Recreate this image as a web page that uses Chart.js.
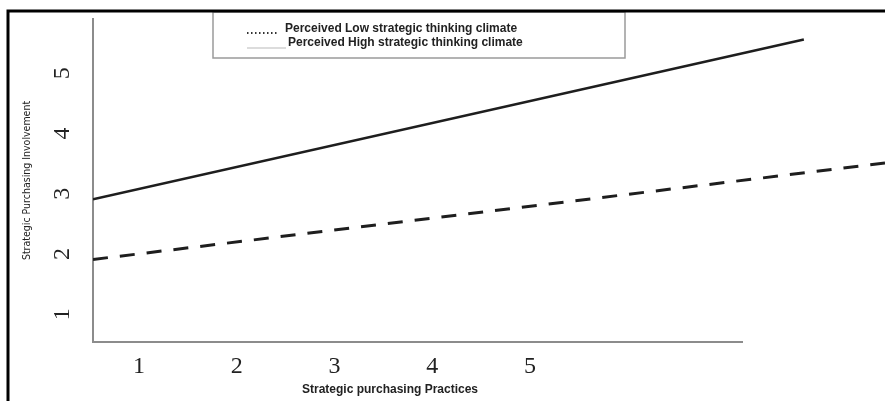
<!DOCTYPE html>
<html>
<head>
<meta charset="utf-8">
<script src="https://cdn.jsdelivr.net/npm/chart.js@4.4.1/dist/chart.umd.min.js"></script>
<style>
  html, body { margin: 0; padding: 0; background: #fff; }
  #wrap { width: 885px; height: 401px; }
</style>
</head>
<body>
<div id="wrap"><canvas id="chart" width="885" height="401"></canvas></div>
<script>
// ================= DATA =================
const seriesLabels = ["Perceived Low strategic thinking climate", "Perceived High strategic thinking climate"];
const lowX = [0.53, 8.63];
const lowY = [1.91, 3.51];
const highX = [0.53, 7.8];
const highY = [2.91, 5.56];
const xTicks = [1, 2, 3, 4, 5];
const yTicks = [1, 2, 3, 4, 5];
const xTitle = "Strategic purchasing Practices";
const yTitle = "Strategic Purchasing Involvement";

// axis ranges
const xRange = [0.53, 8.63];
const yRange = [0.54, 5.9];

const SERIF = "'Liberation Serif', 'Times New Roman', serif";
const SANS = "'Liberation Sans', Arial, sans-serif";
const NARROW = "'Liberation Sans Narrow', 'DejaVu Sans Condensed', 'Liberation Sans', sans-serif";
const INK = "#1e1e1e";
const AXIS = "#8c8c8c";

const toPoints = (xs, ys) => xs.map((x, i) => ({ x, y: ys[i] }));

// ================= PLUGIN: frame, short x axis, x title, legend =================
const decorPlugin = {
    id: 'decor',
    afterDraw(chart) {
        const ctx = chart.ctx;
        const area = chart.chartArea;
        ctx.save();

        // short x axis line
        ctx.strokeStyle = AXIS; ctx.lineWidth = 2;
        ctx.beginPath(); ctx.moveTo(area.left - 1, area.bottom); ctx.lineTo(743, area.bottom); ctx.stroke();

        // x axis title
        ctx.fillStyle = "#222"; ctx.font = "bold 12px " + SANS;
        ctx.textAlign = "center"; ctx.textBaseline = "middle";
        ctx.fillText(xTitle, 390, 390);

        // legend box
        ctx.fillStyle = "#fff"; ctx.fillRect(213, 12, 412, 46);
        ctx.strokeStyle = "#9a9a9a"; ctx.lineWidth = 1.5; ctx.strokeRect(213, 12, 412, 46);

        const labels = chart.data.datasets.map(d => d.label);
        // low: dotted symbol
        ctx.strokeStyle = "#333"; ctx.lineWidth = 2; ctx.setLineDash([1.5, 2.5]);
        ctx.beginPath(); ctx.moveTo(247, 33); ctx.lineTo(279, 33); ctx.stroke();
        // high: faint solid symbol
        ctx.setLineDash([]); ctx.strokeStyle = "#d0d0d0"; ctx.lineWidth = 1.5;
        ctx.beginPath(); ctx.moveTo(247, 48); ctx.lineTo(286, 48); ctx.stroke();

        ctx.fillStyle = "#222"; ctx.font = "bold 12px " + SANS;
        ctx.textAlign = "left"; ctx.textBaseline = "middle";
        ctx.fillText(labels[0], 285, 29);
        ctx.fillText(labels[1], 288, 43);

        // black outer frame (top + left)
        ctx.strokeStyle = "#000"; ctx.lineWidth = 3;
        ctx.beginPath(); ctx.moveTo(8, 401); ctx.lineTo(8, 11); ctx.lineTo(885, 11); ctx.stroke();

        ctx.restore();
    }
};

// ================= CHART =================
new Chart(document.getElementById('chart'), {
    type: 'line',
    data: {
        datasets: [
            {
                label: seriesLabels[0],
                data: toPoints(lowX, lowY),
                borderColor: INK, borderWidth: 3, borderDash: [15, 12],
                pointRadius: 0, fill: false, tension: 0
            },
            {
                label: seriesLabels[1],
                data: toPoints(highX, highY),
                borderColor: INK, borderWidth: 2.5,
                pointRadius: 0, fill: false, tension: 0
            }
        ]
    },
    options: {
        responsive: false,
        animation: false,
        devicePixelRatio: 1,
        layout: { padding: { top: 19, left: 0, right: 0, bottom: 0 } },
        plugins: { legend: { display: false }, tooltip: { enabled: false } },
        scales: {
            x: {
                type: 'linear',
                min: xRange[0], max: xRange[1],
                afterBuildTicks: s => { s.ticks = xTicks.map(v => ({ value: v })); },
                afterFit: s => { s.height = 59; s.paddingLeft = 0; s.paddingRight = 0; },
                grid: { display: false, drawTicks: false },
                border: { display: false },
                ticks: {
                    color: "#222", padding: 10, maxRotation: 0, minRotation: 0,
                    font: { family: SERIF, size: 24 },
                    callback: v => String(v)
                }
            },
            y: {
                type: 'linear',
                min: yRange[0], max: yRange[1],
                afterBuildTicks: s => { s.ticks = yTicks.map(v => ({ value: v })); },
                afterFit: s => { s.width = 93; s.paddingTop = 0; s.paddingBottom = 0; },
                grid: { display: false, drawTicks: false },
                border: { display: true, color: AXIS, width: 2 },
                ticks: {
                    color: "#222", padding: 24, minRotation: 90, maxRotation: 90,
                    crossAlign: 'center',
                    font: { family: SERIF, size: 24 },
                    callback: v => String(v)
                },
                title: {
                    display: true, text: yTitle, color: "#222",
                    font: { family: NARROW, size: 10.5 },
                    padding: { top: 21, bottom: 0 }
                }
            }
        }
    },
    plugins: [decorPlugin]
});
</script>
</body>
</html>
